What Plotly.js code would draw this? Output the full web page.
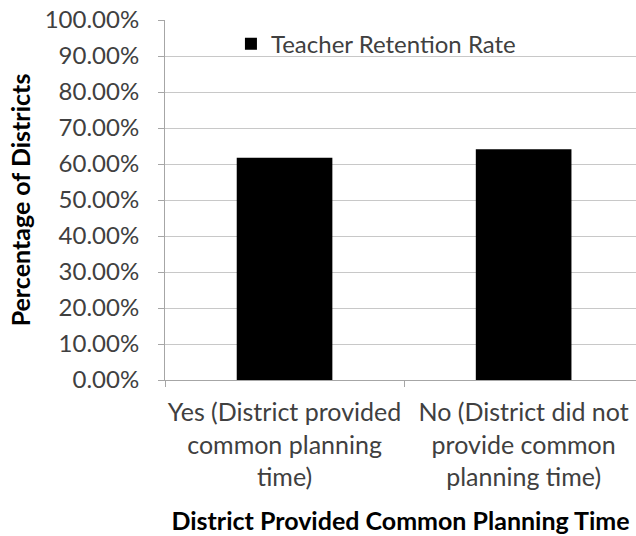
<!DOCTYPE html>
<html>
<head>
<meta charset="utf-8">
<script src="https://cdn.plot.ly/plotly-3.0.1.min.js"></script>
<style>html,body{margin:0;padding:0;background:#fff;}#chart{width:636px;height:536px;}</style>
</head>
<body>
<div id="chart"></div>
<script>
var categories = ["Yes (District provided<br>common planning<br>time)", "No (District did not<br>provide common<br>planning time)"];
var retentionRate = [0.6175, 0.641];
var seriesName = "Teacher Retention Rate";
var yTickVals = [0, 0.1, 0.2, 0.3, 0.4, 0.5, 0.6, 0.7, 0.8, 0.9, 1.0];

var FONT = "Lato, 'Open Sans', sans-serif";

var trace = {
  type: "bar",
  x: [0, 1],
  y: retentionRate,
  name: seriesName,
  width: 0.4,
  marker: {color: "#000000"},
  showlegend: true
};

var layout = {
  width: 636, height: 536,
  margin: {l: 165, r: 0, t: 20, b: 156},
  paper_bgcolor: "#ffffff",
  plot_bgcolor: "#ffffff",
  font: {family: FONT, size: 24, color: "#404040"},
  showlegend: true,
  legend: {x: 0.14, y: 0.933, xanchor: "left", yanchor: "middle",
           font: {family: FONT, size: 24, color: "#404040"}, bgcolor: "rgba(0,0,0,0)",
           itemwidth: 30},
  xaxis: {
    type: "linear",
    range: [-0.5, 1.47],
    tickvals: [0, 1],
    ticktext: categories,
    ticks: "",
    showgrid: false,
    zeroline: false,
    showline: true,
    linecolor: "#a6a6a6",
    linewidth: 1,
    ticklabelstandoff: 10,
    minor: {tickvals: [-0.5, 0.5, 1.5], ticks: "outside", ticklen: 6, tickcolor: "#a6a6a6", showgrid: false},
    tickfont: {family: FONT, size: 25, color: "#404040"},
    title: {text: "<b>District Provided Common Planning Time</b>", standoff: 22,
            font: {family: FONT, size: 25, color: "#000000"}}
  },
  yaxis: {
    range: [0, 1],
    tickvals: yTickVals,
    tickformat: ".2%",
    ticks: "outside",
    ticklen: 6,
    tickcolor: "#a6a6a6",
    ticklabelstandoff: 14,
    showgrid: true,
    gridcolor: "#c8c8c8",
    zeroline: false,
    showline: true,
    linecolor: "#a6a6a6",
    tickfont: {family: FONT, size: 24, color: "#404040"},
    title: {text: "<b>Percentage of Districts</b>", standoff: 6,
            font: {family: FONT, size: 25, color: "#000000"}}
  }
};

Plotly.newPlot("chart", [trace], layout, {staticPlot: true, displayModeBar: false});
</script>
</body>
</html>
